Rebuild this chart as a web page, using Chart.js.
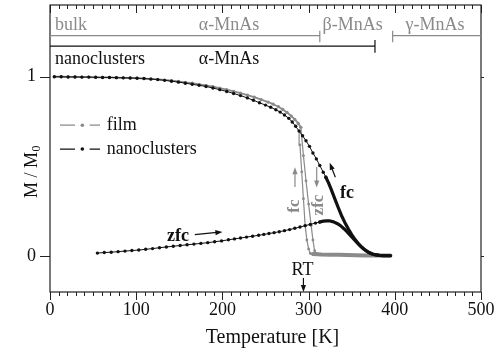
<!DOCTYPE html>
<html>
<head>
<meta charset="utf-8">
<script src="https://cdn.jsdelivr.net/npm/chart.js@4/dist/chart.umd.min.js"></script>
<style>
  html, body { margin: 0; padding: 0; background: #fff; }
</style>
</head>
<body>
<canvas id="myChart" width="502" height="355"></canvas>
<script>
'use strict';

// DATA

// axis ticks
let xTicks = [0, 100, 200, 300, 400, 500];
let yTicks = [0, 1];

// nanoclusters, field cooled (dotted part)
let fcT = [5, 13, 21, 29, 37, 45, 53, 61, 69, 77, 85, 93, 101, 109, 117, 125, 133, 141, 149, 157, 165, 173, 181, 189, 197, 205, 213, 221, 229, 236, 243, 250, 256, 262, 267, 272, 277, 281, 285, 289, 293, 297, 301, 305, 309, 313, 317, 320];
let fcM = [1.000, 1.000, 0.999, 0.999, 0.998, 0.998, 0.997, 0.996, 0.996, 0.995, 0.994, 0.993, 0.992, 0.990, 0.987, 0.984, 0.980, 0.975, 0.970, 0.964, 0.958, 0.952, 0.946, 0.937, 0.928, 0.918, 0.907, 0.895, 0.882, 0.869, 0.855, 0.842, 0.830, 0.816, 0.803, 0.787, 0.768, 0.748, 0.724, 0.697, 0.671, 0.643, 0.612, 0.575, 0.542, 0.505, 0.468, 0.440];
// nanoclusters, field cooled (dense, thick part)
let fcTailT = [320, 323, 326, 330, 334, 338, 342, 346, 350, 354, 358, 362, 366, 370, 374, 378, 382, 386, 390, 395];
let fcTailM = [0.440, 0.410, 0.375, 0.325, 0.275, 0.228, 0.188, 0.152, 0.120, 0.092, 0.068, 0.048, 0.032, 0.020, 0.012, 0.007, 0.004, 0.003, 0.002, 0.002];

// nanoclusters, zero field cooled
let zfcT = [55, 63, 71, 79, 87, 95, 103, 111, 119, 127, 135, 143, 151, 159, 167, 175, 183, 191, 199, 207, 214, 221, 228, 235, 242, 248, 254, 260, 266, 272, 278, 284, 290, 296, 302, 308, 313];
let zfcM = [0.017, 0.020, 0.022, 0.025, 0.028, 0.031, 0.034, 0.038, 0.042, 0.047, 0.051, 0.055, 0.059, 0.063, 0.067, 0.071, 0.075, 0.080, 0.085, 0.091, 0.096, 0.101, 0.106, 0.111, 0.116, 0.121, 0.126, 0.131, 0.136, 0.142, 0.148, 0.155, 0.162, 0.170, 0.177, 0.184, 0.190];
let zfcTailT = [313, 317, 321, 325, 329, 333, 337, 341, 345, 349, 353, 357, 361, 365, 369, 373, 377, 382, 388, 395];
let zfcTailM = [0.190, 0.195, 0.197, 0.196, 0.191, 0.182, 0.170, 0.153, 0.134, 0.113, 0.092, 0.071, 0.052, 0.036, 0.023, 0.013, 0.008, 0.004, 0.003, 0.002];

// film
let filmT = [5, 13, 21, 29, 37, 45, 53, 61, 69, 77, 85, 93, 101, 109, 117, 125, 133, 141, 149, 157, 165, 173, 181, 189, 197, 205, 213, 221, 229, 237, 245, 253, 259, 265, 270, 275, 280, 284, 288, 291];
let filmM = [1.000, 1.000, 0.999, 0.999, 0.998, 0.998, 0.997, 0.996, 0.996, 0.995, 0.994, 0.993, 0.992, 0.990, 0.988, 0.985, 0.982, 0.978, 0.974, 0.969, 0.964, 0.958, 0.952, 0.945, 0.937, 0.928, 0.919, 0.909, 0.898, 0.886, 0.873, 0.859, 0.847, 0.833, 0.818, 0.801, 0.781, 0.762, 0.740, 0.718];
let filmHeatT = [291, 294, 297, 300, 303, 305, 307, 309, 312];
let filmHeatM = [0.718, 0.560, 0.420, 0.290, 0.170, 0.090, 0.030, 0.015, 0.010];
let filmCoolT = [305, 302, 300, 298, 296, 294, 292, 290, 289];
let filmCoolM = [0.010, 0.015, 0.040, 0.090, 0.170, 0.320, 0.470, 0.620, 0.700];
let filmFlatT = [305, 315, 325, 335, 345, 355, 365, 375, 385, 395];
let filmFlatM = [0.012, 0.009, 0.008, 0.007, 0.006, 0.005, 0.004, 0.004, 0.003, 0.003];

// phase bars at the top
let bulkLabels = ['\u03b1-MnAs', '\u03b2-MnAs', '\u03b3-MnAs'];
let bulkLabelT = [207.7, 351, 446.6];
let bulkAlphaEnd = 313;
let bulkGammaStart = 397.5;
let nanoAlphaEnd = 377;
let roomT = 294;

const GRAY = '#8a8a8a';
const BLACK = '#111111';
const FONT = '"Liberation Serif", "Times New Roman", serif';

function pts(xs, ys) {
  let out = [];
  for (let i = 0; i < xs.length; i++) {
    out.push({ x: xs[i], y: ys[i] });
  }
  return out;
}

function line(xs, ys, color, width, radius, order) {
  return {
    data: pts(xs, ys),
    borderColor: color,
    backgroundColor: color,
    borderWidth: width,
    pointRadius: radius,
    pointBorderWidth: 0,
    pointBackgroundColor: color,
    borderCapStyle: 'round',
    borderJoinStyle: 'round',
    showLine: true,
    tension: 0,
    fill: false,
    order: order
  };
}

function arrow(ctx, x1, y1, x2, y2, color) {
  let a = Math.atan2(y2 - y1, x2 - x1);
  let len = 7, half = 2.6;
  ctx.save();
  ctx.strokeStyle = color;
  ctx.fillStyle = color;
  ctx.lineWidth = 1.2;
  ctx.beginPath();
  ctx.moveTo(x1, y1);
  ctx.lineTo(x2 - Math.cos(a) * len * 0.8, y2 - Math.sin(a) * len * 0.8);
  ctx.stroke();
  ctx.beginPath();
  ctx.moveTo(x2, y2);
  ctx.lineTo(x2 - Math.cos(a) * len - Math.sin(a) * half, y2 - Math.sin(a) * len + Math.cos(a) * half);
  ctx.lineTo(x2 - Math.cos(a) * len + Math.sin(a) * half, y2 - Math.sin(a) * len - Math.cos(a) * half);
  ctx.closePath();
  ctx.fill();
  ctx.restore();
}

// frame, ticks, legend and labels
const decor = {
  id: 'decor',
  afterDraw(chart) {
    const ctx = chart.ctx;
    const xs = chart.scales.x;
    const ys = chart.scales.y;
    const a = chart.chartArea;
    const X = v => xs.getPixelForValue(v);
    const Y = v => ys.getPixelForValue(v);

    ctx.save();
    // box
    ctx.strokeStyle = '#222';
    ctx.lineWidth = 1.2;
    ctx.strokeRect(a.left, a.top, a.right - a.left, a.bottom - a.top);

    // x ticks (bottom outward, top inward)
    ctx.lineWidth = 1;
    ctx.beginPath();
    for (let t = 0; t <= 500; t += 10) {
      let px = Math.round(X(t)) + 0.5;
      let big = t % 100 === 0;
      ctx.moveTo(px, a.bottom);
      ctx.lineTo(px, a.bottom + (big ? 8 : 4));
      ctx.moveTo(px, a.top);
      ctx.lineTo(px, a.top + (big ? 8 : 4));
    }
    // y ticks
    yTicks.forEach(v => {
      let py = Math.round(Y(v)) + 0.5;
      ctx.moveTo(a.left, py);
      ctx.lineTo(a.left - 10, py);
      ctx.moveTo(a.right, py);
      ctx.lineTo(a.right + 3, py);
    });
    ctx.stroke();

    // phase bars
    ctx.lineWidth = 1.2;
    ctx.strokeStyle = GRAY;
    ctx.beginPath();
    ctx.moveTo(a.left, Y(1.229));
    ctx.lineTo(X(bulkAlphaEnd), Y(1.229));
    ctx.moveTo(X(bulkAlphaEnd), Y(1.257));
    ctx.lineTo(X(bulkAlphaEnd), Y(1.192));
    ctx.moveTo(X(bulkGammaStart), Y(1.229));
    ctx.lineTo(a.right, Y(1.229));
    ctx.moveTo(X(bulkGammaStart), Y(1.257));
    ctx.lineTo(X(bulkGammaStart), Y(1.192));
    ctx.stroke();
    ctx.strokeStyle = BLACK;
    ctx.beginPath();
    ctx.moveTo(a.left, Y(1.171));
    ctx.lineTo(X(nanoAlphaEnd), Y(1.171));
    ctx.moveTo(X(nanoAlphaEnd), Y(1.205));
    ctx.lineTo(X(nanoAlphaEnd), Y(1.134));
    ctx.stroke();

    ctx.font = '18px ' + FONT;
    ctx.textBaseline = 'alphabetic';
    ctx.fillStyle = GRAY;
    ctx.textAlign = 'left';
    ctx.fillText('bulk', X(5.8), Y(1.26));
    ctx.textAlign = 'center';
    bulkLabels.forEach((s, i) => ctx.fillText(s, X(bulkLabelT[i]), Y(1.26)));
    ctx.fillStyle = BLACK;
    ctx.textAlign = 'left';
    ctx.fillText('nanoclusters', X(5.8), Y(1.071));
    ctx.textAlign = 'center';
    ctx.fillText('\u03b1-MnAs', X(bulkLabelT[0]), Y(1.071));

    // legend
    const legend = [['film', GRAY, 0.73], ['nanoclusters', BLACK, 0.597]];
    legend.forEach(([name, col, m]) => {
      let py = Y(m);
      ctx.strokeStyle = col;
      ctx.fillStyle = col;
      ctx.lineWidth = 1.3;
      ctx.beginPath();
      ctx.moveTo(X(11.6), py);
      ctx.lineTo(X(29), py);
      ctx.moveTo(X(46), py);
      ctx.lineTo(X(58), py);
      ctx.stroke();
      ctx.beginPath();
      ctx.arc(X(37.5), py, 1.8, 0, Math.PI * 2);
      ctx.fill();
      ctx.fillStyle = BLACK;
      ctx.textAlign = 'left';
      ctx.textBaseline = 'middle';
      ctx.fillText(name, X(65.8), py);
    });

    // curve labels
    ctx.textBaseline = 'alphabetic';
    ctx.font = 'bold 18px ' + FONT;
    ctx.fillStyle = BLACK;
    ctx.textAlign = 'left';
    ctx.fillText('zfc', X(135.7), Y(0.084));
    arrow(ctx, X(168), Y(0.12), X(200), Y(0.135), BLACK);
    ctx.fillText('fc', X(336.4), Y(0.324));
    arrow(ctx, X(331), Y(0.44), X(324.5), Y(0.52), BLACK);

    ctx.fillStyle = GRAY;
    ctx.font = 'bold 17px ' + FONT;
    ctx.textAlign = 'center';
    ctx.textBaseline = 'middle';
    [['fc', 284.2, 0.279], ['zfc', 312, 0.285]].forEach(([s, t, m]) => {
      ctx.save();
      ctx.translate(X(t), Y(m));
      ctx.rotate(-Math.PI / 2);
      ctx.fillText(s, 0, 0);
      ctx.restore();
    });
    arrow(ctx, X(284.2), Y(0.385), X(284.2), Y(0.495), GRAY);
    arrow(ctx, X(309.4), Y(0.497), X(309.4), Y(0.383), GRAY);

    // room temperature
    ctx.fillStyle = BLACK;
    ctx.font = '18px ' + FONT;
    ctx.textAlign = 'center';
    ctx.textBaseline = 'alphabetic';
    ctx.fillText('RT', X(roomT - 1), Y(-0.105));
    arrow(ctx, X(roomT), Y(-0.122), X(roomT), a.bottom, BLACK);

    // axis titles
    ctx.font = '20px ' + FONT;
    ctx.fillText('Temperature [K]', (a.left + a.right) / 2 + 7, 343);

    ctx.save();
    ctx.translate(37, 172);
    ctx.rotate(-Math.PI / 2);
    ctx.font = '18px ' + FONT;
    let main = 'M / M';
    let wMain = ctx.measureText(main).width;
    ctx.font = '12px ' + FONT;
    let wSub = ctx.measureText('0').width;
    let x0 = -(wMain + wSub) / 2;
    ctx.textAlign = 'left';
    ctx.font = '18px ' + FONT;
    ctx.fillText(main, x0, 0);
    ctx.font = '12px ' + FONT;
    ctx.fillText('0', x0 + wMain + 0.5, 3);
    ctx.restore();

    ctx.restore();
  }
};

const data = {
  datasets: [
    line(fcT, fcM, BLACK, 1, 1.7, 0),
    line(fcTailT, fcTailM, BLACK, 3.2, 0, 0),
    line(zfcT, zfcM, BLACK, 1, 1.7, 0),
    line(zfcTailT, zfcTailM, BLACK, 3.2, 0, 0),
    line(filmT, filmM, GRAY, 1.8, 1.6, 1),
    line(filmHeatT, filmHeatM, GRAY, 1.2, 1.4, 1),
    line(filmCoolT, filmCoolM, GRAY, 1.2, 1.4, 1),
    line(filmFlatT, filmFlatM, GRAY, 4, 0, 1)
  ]
};

const config = {
  type: 'scatter',
  data: data,
  options: {
    responsive: false,
    animation: false,
    devicePixelRatio: 1,
    layout: { padding: { left: 0, right: 21, top: 5, bottom: 0 } },
    plugins: {
      legend: { display: false },
      tooltip: { enabled: false }
    },
    scales: {
      x: {
        type: 'linear',
        min: 0,
        max: 500,
        afterBuildTicks: s => { s.ticks = xTicks.map(v => ({ value: v })); },
        afterFit: s => { s.height = 63; s.paddingLeft = 0; s.paddingRight = 0; },
        grid: { display: false, drawTicks: false },
        border: { display: false },
        ticks: { color: BLACK, padding: 7, font: { family: FONT, size: 18 } }
      },
      y: {
        min: -0.2,
        max: 1.4,
        afterBuildTicks: s => { s.ticks = yTicks.map(v => ({ value: v })); },
        afterFit: s => { s.width = 50; s.paddingTop = 0; s.paddingBottom = 0; },
        grid: { display: false, drawTicks: false },
        border: { display: false },
        ticks: { color: BLACK, padding: 14, font: { family: FONT, size: 18 } }
      }
    }
  },
  plugins: [decor]
};

const myChart = new Chart(document.getElementById('myChart'), config);
</script>
</body>
</html>
